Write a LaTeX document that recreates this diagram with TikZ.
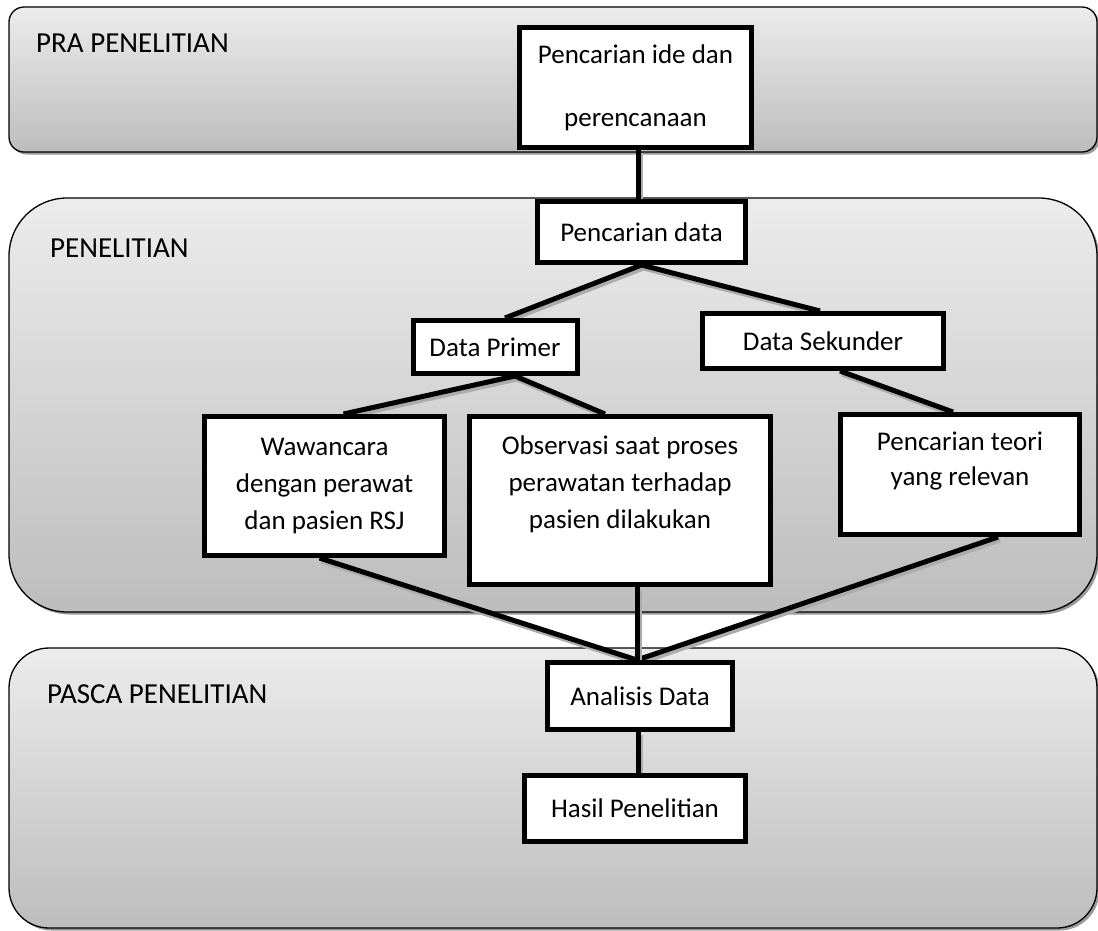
\documentclass[tikz,border=0pt]{standalone}
\usepackage{fontspec}
\setmainfont{Carlito}
\usetikzlibrary{calc}
\begin{document}
\begin{tikzpicture}[x=1pt,y=-1pt,
  panel/.style={draw=black, line width=1.3pt, top color=gray!15, bottom color=gray!52},
  pshadow/.style={fill=gray!80, draw=none},
  box/.style={draw=black, line width=5pt, fill=white, inner sep=0pt, align=center, font=\fontsize{27}{36}\selectfont},
  conn/.style={line width=5pt, preaction={draw=gray!65, line width=5pt, transform canvas={shift={(2pt,-3pt)}}}},
  lbl/.style={font=\fontsize{29}{34}\selectfont, anchor=base west, inner sep=0pt}
]
\useasboundingbox (0,0) rectangle (1098,930);

% panels
\fill[pshadow, rounded corners=15pt] (11.5,9.5) rectangle (1099.5,154.5);
\draw[panel, rounded corners=15pt] (9,7) rectangle (1097,152);
\fill[pshadow, rounded corners=58pt] (11.5,200.5) rectangle (1099.5,614.5);
\draw[panel, rounded corners=58pt] (9,198) rectangle (1097,612);
\fill[pshadow, rounded corners=40pt] (11.5,650.5) rectangle (1099.5,930.5);
\draw[panel, rounded corners=40pt] (9,648) rectangle (1097,928);

\node[lbl] (pra) at (36,52) {PRA PENELITIAN};
\node[lbl] (pen) at (50,257) {PENELITIAN};
\node[lbl] (pasca) at (47,703) {PASCA PENELITIAN};

% box positions
\coordinate (c1) at (635.5,87.5);
\coordinate (c2) at (641.5,232);
\coordinate (cdp) at (495,347);
\coordinate (cds) at (823,341);
\coordinate (cw) at (324.5,486);
\coordinate (co) at (620,500.5);
\coordinate (ct) at (960,474.5);
\coordinate (ca) at (640,696);
\coordinate (ch) at (635,808.5);

\tikzset{
  bide/.style={box, minimum width=232pt, minimum height=120pt, font=\fontsize{27}{63}\selectfont},
  bcari/.style={box, minimum width=208pt, minimum height=61pt},
  bdp/.style={box, minimum width=164pt, minimum height=53pt},
  bds/.style={box, minimum width=241pt, minimum height=55pt},
  bwaw/.style={box, minimum width=240pt, minimum height=139pt, font=\fontsize{27}{37}\selectfont},
  bobs/.style={box, minimum width=301pt, minimum height=168pt, font=\fontsize{27}{37}\selectfont},
  bteori/.style={box, minimum width=239pt, minimum height=120pt, font=\fontsize{27}{35}\selectfont},
  bana/.style={box, minimum width=185pt, minimum height=67pt},
  bhasil/.style={box, minimum width=221pt, minimum height=66pt}
}

\path
  (c1) node[bide] (ide) {}
  (c2) node[bcari] (cari) {}
  (cdp) node[bdp] (dp) {}
  (cds) node[bds] (ds) {}
  (cw) node[bwaw] (waw) {}
  (co) node[bobs] (obs) {}
  (ct) node[bteori] (teori) {}
  (ca) node[bana] (ana) {}
  (ch) node[bhasil] (hasil) {};

% connector points
\coordinate (j1) at ([xshift=-3pt]ana.north);
\coordinate (dpb) at ([xshift=20pt]dp.south);
\coordinate (dpt) at ([xshift=10pt]dp.north);
\coordinate (dsb) at ([xshift=17pt]ds.south);
\coordinate (dst) at ([xshift=-3pt]ds.north);

% connectors
\draw[conn] ([xshift=2.5pt]ide.south) -- ([xshift=2.5pt]ide.south |- cari.north);
\draw[conn] (dpt) -- (cari.south) -- (dst);
\draw[conn] ([xshift=19pt]waw.north) -- (dpb) -- ([xshift=-15pt]obs.north);
\draw[conn] (dsb) -- ([xshift=-7pt]teori.north);
\draw[conn] ([xshift=-5pt]waw.south) -- (j1) -- ([xshift=38pt]teori.south);
\draw[conn] (j1 |- obs.south) -- (j1);
\draw[conn] ([xshift=-2pt]ana.south) -- ([xshift=-2pt]ana.south |- hasil.north);

% boxes with text on top of connectors
\path
  (c1) node[bide] {Pencarian ide dan\\perencanaan}
  (c2) node[bcari] {Pencarian data}
  (cdp) node[bdp] {Data Primer}
  (cds) node[bds] {Data Sekunder}
  (cw) node[bwaw] {Wawancara\\dengan perawat\\dan pasien RSJ}
  (co) node[bobs] {Observasi saat proses\\perawatan terhadap\\pasien dilakukan\\[-12pt]\strut}
  (ct) node[bteori] {Pencarian teori\\yang relevan\\[-14pt]\strut}
  (ca) node[bana] {Analisis Data}
  (ch) node[bhasil] {Hasil Penelitian};
\end{tikzpicture}
\end{document}
